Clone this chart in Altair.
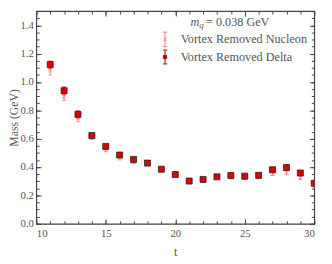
import altair as alt
import pandas as pd

t = list(range(11, 31))
delta = [1.123, 0.939, 0.772, 0.623, 0.546, 0.485, 0.454, 0.428, 0.385, 0.347,
         0.301, 0.313, 0.331, 0.340, 0.336, 0.342, 0.381, 0.397, 0.358, 0.286]
delta_err = [0.025, 0.028, 0.025, 0.015, 0.013, 0.012, 0.012, 0.010, 0.010, 0.010,
             0.010, 0.010, 0.012, 0.012, 0.012, 0.012, 0.014, 0.014, 0.014, 0.015]
nucleon = [1.080, 0.895, 0.745, 0.607, 0.520, 0.462, 0.437, 0.428, 0.385, 0.345,
           0.310, 0.315, 0.328, 0.330, 0.325, 0.330, 0.355, 0.360, 0.325, 0.268]
nucleon_err = [0.030, 0.025, 0.025, 0.012, 0.012, 0.012, 0.012, 0.010, 0.010, 0.010,
               0.012, 0.010, 0.010, 0.012, 0.012, 0.012, 0.015, 0.014, 0.015, 0.015]

series_names = ["Vortex Removed Nucleon", "Vortex Removed Delta"]
x_major = [10, 15, 20, 25, 30]
x_minor = list(range(10, 31))
y_major = [0.0, 0.2, 0.4, 0.6, 0.8, 1.0, 1.2, 1.4]
y_minor = [round(i * 0.05, 2) for i in range(31)]

nuc = pd.DataFrame({"t": t, "m": nucleon, "lo": [a - b for a, b in zip(nucleon, nucleon_err)],
                    "hi": [a + b for a, b in zip(nucleon, nucleon_err)]})
del_ = pd.DataFrame({"t": t, "m": delta, "lo": [a - b for a, b in zip(delta, delta_err)],
                     "hi": [a + b for a, b in zip(delta, delta_err)]})
leg = pd.DataFrame({"series": series_names})
one = pd.DataFrame({"k": [0]})

FONT = "Liberation Serif"
GRAY = "#555555"
NUC = "#ff7a7a"
DELF = "#e00000"
DELB = "#e82020"

xs = alt.Scale(domain=[10, 30], nice=False)
ys = alt.Scale(domain=[0, 1.5], nice=False)


def ax(values, size, orient, labels=False, title=None, fmt=None, pad=8, tpad=6, tsize=12.5):
    kw = dict(values=values, tickSize={"expr": str(-size)}, orient=orient, labels=labels,
              domain=False, grid=False, tickColor="#444444", tickWidth=1,
              title=title)
    if labels:
        kw.update(labelFont=FONT, labelFontSize=11, labelColor=GRAY, labelPadding=pad)
    if fmt:
        kw["format"] = fmt
    if title:
        kw.update(titleFont=FONT, titleFontSize=tsize, titleColor=GRAY, titleFontWeight="normal",
                  titlePadding=tpad)
    return alt.Axis(**kw)


l1 = alt.Chart(nuc).mark_rule(color=NUC, strokeWidth=1, clip=True).encode(
    x=alt.X("t:Q", scale=xs, axis=ax(x_major, 5, "bottom", True, "t", "d", pad=9, tpad=8)),
    y=alt.Y("lo:Q", scale=ys, axis=ax(y_major, 5, "left", True, "Mass (GeV)", ".1f", pad=8,
                                      tpad=0, tsize=12)),
    y2="hi:Q",
)
l2 = alt.Chart(nuc).mark_tick(color=NUC, orient="horizontal", size=4, thickness=1, clip=True).encode(
    x=alt.X("t:Q", scale=xs, axis=ax(x_minor, 3, "bottom")),
    y=alt.Y("lo:Q", scale=ys, axis=ax(y_minor, 3, "left")),
)
l3 = alt.Chart(nuc).mark_tick(color=NUC, orient="horizontal", size=4, thickness=1, clip=True).encode(
    x=alt.X("t:Q", scale=xs, axis=ax(x_major, 5, "top")),
    y=alt.Y("hi:Q", scale=ys, axis=ax(y_major, 5, "right")),
)
l4 = alt.Chart(nuc).mark_point(shape="M-1,-1L1,1M-1,1L1,-1", size=16, color=NUC,
                                strokeWidth=1, clip=True).encode(
    x=alt.X("t:Q", scale=xs, axis=ax(x_minor, 3, "top")),
    y=alt.Y("m:Q", scale=ys, axis=ax(y_minor, 3, "right")),
)
l5 = alt.Chart(del_).mark_rule(color=DELB, strokeWidth=1, clip=True).encode(
    x=alt.X("t:Q", scale=xs, axis=None),
    y=alt.Y("lo:Q", scale=ys, axis=None),
    y2="hi:Q",
)
l6 = alt.Chart(del_).mark_tick(color=DELB, orient="horizontal", size=4, thickness=1, clip=True).encode(
    x=alt.X("t:Q", scale=xs, axis=None),
    y=alt.Y("lo:Q", scale=ys, axis=None),
)
l7 = alt.Chart(del_).mark_tick(color=DELB, orient="horizontal", size=4, thickness=1, clip=True).encode(
    x=alt.X("t:Q", scale=xs, axis=None),
    y=alt.Y("hi:Q", scale=ys, axis=None),
)
l8 = alt.Chart(del_).mark_point(shape="square", size=38, filled=True, fill=DELF,
                                stroke="#222222", strokeWidth=0.8, opacity=1, clip=True).encode(
    x=alt.X("t:Q", scale=xs, axis=None),
    y=alt.Y("m:Q", scale=ys, axis=None),
)

nuc_path = "M0,-1V1M-0.3,-1H0.3M-0.3,1H0.3M-0.22,-0.22L0.22,0.22M-0.22,0.22L0.22,-0.22"
del_path = "M0,-0.95V0.95M-0.3,-0.95H0.3M-0.3,0.95H0.3M-0.22,-0.22H0.22V0.22H-0.22Z"


def lg():
    return alt.Legend(title=None, orient="none", legendX=124, legendY=21,
                      labelFont=FONT, labelFontSize=12.5, labelColor=GRAY,
                      symbolSize=225, symbolStrokeWidth=1, labelOffset=8,
                      rowPadding=-3, labelLimit=300)


legend_layer = alt.Chart(leg).mark_point(size=225, opacity=1, strokeWidth=1, clip=True).encode(
    x=alt.value(-100),
    y=alt.value(-100),
    shape=alt.Shape("series:N", scale=alt.Scale(domain=series_names, range=[nuc_path, del_path]),
                    legend=lg()),
    fill=alt.Fill("series:N", scale=alt.Scale(domain=series_names, range=["transparent", DELF]),
                  legend=lg()),
    stroke=alt.Stroke("series:N", scale=alt.Scale(domain=series_names, range=[NUC, "#b00000"]),
                      legend=lg()),
)

title_m = alt.Chart(one).mark_text(text="m", font=FONT, fontSize=12.5, fontStyle="italic",
                                   color=GRAY, align="left", baseline="alphabetic").encode(
    x=alt.value(158), y=alt.value(15))
title_q = alt.Chart(one).mark_text(text="q", font=FONT, fontSize=9, fontStyle="italic",
                                   color=GRAY, align="left", baseline="alphabetic").encode(
    x=alt.value(167), y=alt.value(17))
title_rest = alt.Chart(one).mark_text(text="= 0.038 GeV", font=FONT, fontSize=12.5,
                                      color=GRAY, align="left", baseline="alphabetic").encode(
    x=alt.value(174), y=alt.value(15))

chart = alt.layer(l1, l2, l3, l4, l5, l6, l7, l8, legend_layer, title_m, title_q, title_rest).resolve_axis(
    x="independent", y="independent"
).properties(
    width=285, height=218,
    autosize=alt.AutoSizeParams(type="none"),
    padding={"left": 29, "top": 0, "right": 10, "bottom": 38},
).configure_view(stroke="#444444", strokeWidth=1.2)

chart.save("out.html", embed_options={"renderer": "svg", "actions": False})
